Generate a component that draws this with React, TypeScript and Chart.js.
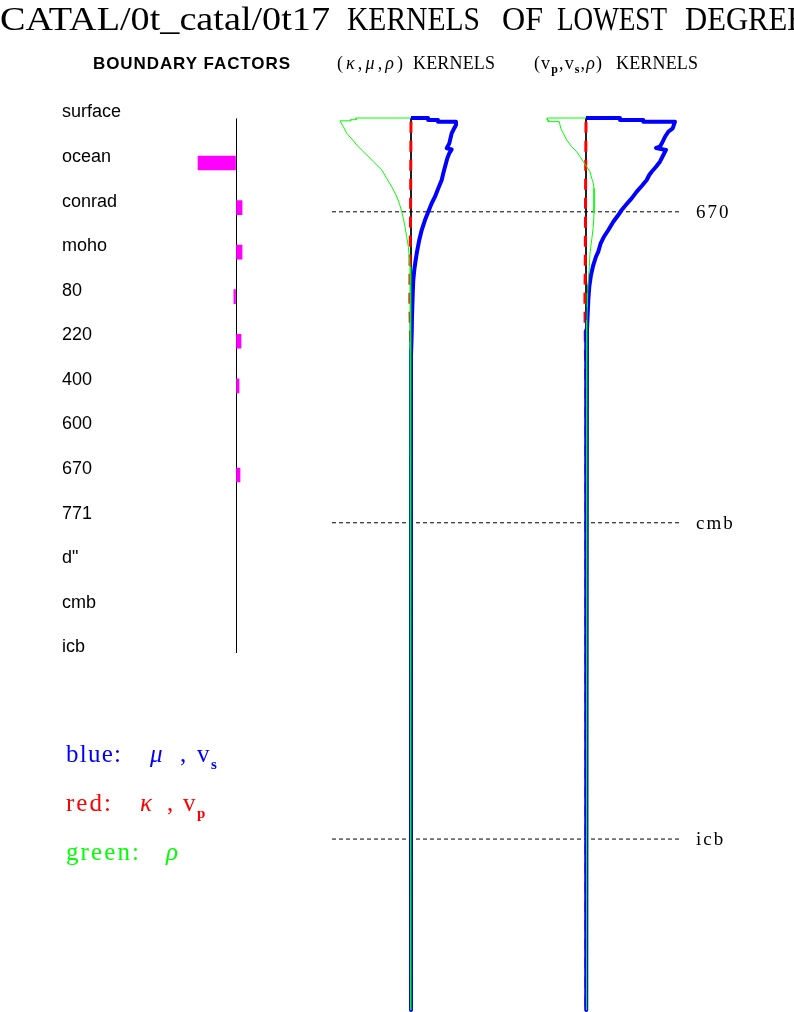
import React, { useEffect, useRef } from 'react';
import { Chart, registerables } from 'chart.js';

Chart.register(...registerables);

// ---------------- data ----------------
const TITLE_WORDS = ['CATAL/0t_catal/0t17', 'KERNELS', 'OF', 'LOWEST', 'DEGREE'];
const EARTH_RADIUS_KM = 6371;

const BOUNDARY_LABELS = ['surface', 'ocean', 'conrad', 'moho', '80', '220', '400', '600', '670', '771', 'd"', 'cmb', 'icb'];
const BOUNDARY_FACTORS = [0, -0.5, 0.08, 0.08, -0.028, 0.066, 0.04, 0, 0.053, 0, 0, 0, 0];

const DISCONTINUITY_DEPTHS = [670, 2891, 5150];
const DISCONTINUITY_LABELS = ['670', 'cmb', 'icb'];

const ZERO_DEPTHS = [0, 6371];
const ZERO_VALUES = [0, 0];

// panel 1: (kappa, mu, rho) kernels — depth (km) and kernel value
const P1_MU_DEPTH = [0, 0, 14, 14, 26, 26, 50, 86, 109, 181, 216, 224, 252, 288, 348, 395, 443, 502, 562, 609, 669, 729, 800, 871, 943, 1014, 1086, 1157, 1252, 1348, 1419, 1536, 1700, 6371];
const P1_MU = [0, 0.38, 0.38, 0.6, 0.6, 1.0, 1.0, 0.94, 0.904, 0.851, 0.793, 0.904, 0.851, 0.807, 0.756, 0.718, 0.682, 0.607, 0.533, 0.46, 0.384, 0.311, 0.238, 0.184, 0.14, 0.104, 0.073, 0.051, 0.038, 0.029, 0.022, 0.016, 0, 0];

const P1_RHO_DEPTH = [0, 0, 12, 12, 20, 20, 62, 109, 157, 193, 229, 264, 312, 371, 431, 491, 550, 609, 669, 716, 776, 848, 919, 991, 1062, 1157, 1252, 1395, 1600, 6371];
const P1_RHO = [0, -1.22, -1.22, -1.34, -1.34, -1.58, -1.504, -1.429, -1.296, -1.207, -1.096, -0.984, -0.838, -0.651, -0.54, -0.429, -0.333, -0.26, -0.207, -0.171, -0.133, -0.096, -0.06, -0.038, -0.022, -0.016, -0.007, -0.007, 0, 0];

const P1_KAPPA_DEPTH = [26, 300, 700, 1000, 1300, 1600, 2000, 6371];
const P1_KAPPA = [0, -0.005, -0.01, -0.02, -0.025, -0.01, 0, 0];

// panel 2: (vp, vs, rho) kernels
const P2_VS_DEPTH = [0, 0, 14, 14, 26, 26, 74, 98, 134, 169, 205, 214, 228, 264, 312, 348, 384, 407, 443, 486, 526, 574, 614, 657, 693, 741, 800, 848, 895, 955, 991, 1050, 1121, 1205, 1300, 1395, 1514, 1580, 1700, 6371];
const P2_VS = [0, 0.382, 0.382, 0.644, 0.644, 1.0, 0.974, 0.925, 0.888, 0.862, 0.831, 0.787, 0.899, 0.869, 0.831, 0.787, 0.738, 0.711, 0.682, 0.626, 0.57, 0.513, 0.457, 0.401, 0.363, 0.307, 0.251, 0.202, 0.165, 0.138, 0.112, 0.082, 0.056, 0.037, 0.026, 0.019, 0.011, 0.008, 0, 0];

const P2_RHO_DEPTH = [0, 0, 14, 14, 26, 26, 74, 109, 157, 205, 241, 276, 312, 348, 384, 431, 466, 502, 586, 681, 776, 871, 966, 1062, 1157, 1252, 1348, 1443, 1538, 1700, 6371];
const P2_RHO = [0, -0.435, -0.435, -0.424, -0.424, -0.3, -0.284, -0.255, -0.217, -0.161, -0.104, -0.067, -0.03, 0.008, 0.045, 0.064, 0.082, 0.09, 0.09, 0.09, 0.082, 0.064, 0.045, 0.037, 0.026, 0.019, 0.015, 0.011, 0.008, 0.004, 0.004];

const P2_VP_DEPTH = [26, 300, 700, 1000, 1300, 1600, 2000, 6371];
const P2_VP = [0, -0.003, -0.006, -0.008, -0.012, -0.008, 0, 0];

// ---------------- layout ----------------
const PAGE_W = 794;
const PAGE_H = 1012;
const PLOT_TOP_PX = 118;
const PLOT_BOTTOM_PX = 1010;
const P1_ZERO_PX = 411;
const P1_UNIT_PX = 45;
const P2_ZERO_PX = 586;
const P2_UNIT_PX = 89;
const REF_LEFT_PX = 332;
const REF_RIGHT_PX = 682;
// title word boxes [left, right]
const TITLE_BOXES = [[0, 330], [347, 480], [502, 543], [557, 667], [685, 806]];

const BF_W = 330;
const BF_H = 700;
const BF_LABEL_LEFT = 62;
const BF_AXIS_W = 98;
const BF_TOP = 118.4;
const BF_BOTTOM = 653.3;
const BF_RIGHT_PAD = 18;

const BLUE = '#0000ff';
const RED = '#ff0000';
const GREEN = '#00ff00';
const MAGENTA = '#ff00ff';
const SERIF = '"Liberation Serif", "DejaVu Serif", serif';
const SANS = '"Liberation Sans", Arial, sans-serif';

const pts = (depths: number[], values: number[]) => depths.map((d, i) => ({ x: values[i], y: d }));

const lineDs = (data: any[], xAxisID: string, color: string, width: number, order: number, dash: number[] = []) => ({
  type: 'line' as const,
  data,
  xAxisID,
  yAxisID: 'y',
  borderColor: color,
  borderWidth: width,
  borderDash: dash,
  borderJoinStyle: 'round' as const,
  pointRadius: 0,
  fill: false,
  tension: 0,
  order,
});

function fitText(ctx: any, text: string, x: number, y: number, font: string, color: string, target?: number, spacing?: number) {
  ctx.font = font;
  ctx.fillStyle = color;
  ctx.letterSpacing = '0px';
  if (target) {
    const w = ctx.measureText(text).width;
    const ls = (target - w) / Math.max(1, text.length - 1);
    ctx.letterSpacing = ls + 'px';
  } else if (spacing) {
    ctx.letterSpacing = spacing + 'px';
  }
  ctx.fillText(text, x, y);
  ctx.letterSpacing = '0px';
}

function scaleText(ctx: any, text: string, x: number, y: number, font: string, color: string, target: number) {
  ctx.font = font;
  ctx.fillStyle = color;
  ctx.letterSpacing = '0px';
  const w = ctx.measureText(text).width;
  ctx.save();
  ctx.translate(x, y);
  ctx.scale(target / w, 1);
  ctx.fillText(text, 0, 0);
  ctx.restore();
}

type Seg = { t: string; font: string; dy?: number };
function drawRun(ctx: any, segs: Seg[], x: number, y: number, color: string, target: number) {
  ctx.letterSpacing = '0px';
  ctx.fillStyle = color;
  const widths = segs.map((s) => {
    ctx.font = s.font;
    return ctx.measureText(s.t).width;
  });
  const total = widths.reduce((a, b) => a + b, 0);
  const gap = (target - total) / Math.max(1, segs.length - 1);
  let cx = x;
  segs.forEach((s, i) => {
    ctx.font = s.font;
    ctx.fillText(s.t, cx, y + (s.dy || 0));
    cx += widths[i] + gap;
  });
}

const textPlugin = {
  id: 'pageText',
  afterDraw(chart: any) {
    const ctx = chart.ctx;
    ctx.save();
    ctx.textBaseline = 'alphabetic';
    ctx.textAlign = 'left';
    // title
    TITLE_WORDS.forEach((w, i) => {
      const [l, r] = TITLE_BOXES[i];
      scaleText(ctx, w, l, 30, `33px ${SERIF}`, '#000', r - l);
    });
    // headers
    fitText(ctx, 'BOUNDARY FACTORS', 93, 69, `bold 17px ${SANS}`, '#000', 197);
    const n = `18px ${SERIF}`;
    const it = `italic 18px ${SERIF}`;
    const sub = `bold 12px ${SERIF}`;
    drawRun(ctx, [
      { t: '(', font: n }, { t: 'κ', font: it }, { t: ',', font: n }, { t: 'μ', font: it },
      { t: ',', font: n }, { t: 'ρ', font: it }, { t: ')', font: n },
    ], 337, 69, '#000', 66);
    fitText(ctx, 'KERNELS', 413, 69, n, '#000', 82);
    drawRun(ctx, [
      { t: '(', font: n }, { t: 'v', font: n }, { t: 'p', font: sub, dy: 4 }, { t: ',', font: n },
      { t: 'v', font: n }, { t: 's', font: sub, dy: 4 }, { t: ',', font: n }, { t: 'ρ', font: it }, { t: ')', font: n },
    ], 534, 69, '#000', 68);
    fitText(ctx, 'KERNELS', 616, 69, n, '#000', 82);

    // discontinuity labels
    const ys = chart.scales.y;
    DISCONTINUITY_DEPTHS.forEach((d, i) => {
      fitText(ctx, DISCONTINUITY_LABELS[i], 696, ys.getPixelForValue(d) + 6, `19px ${SERIF}`, '#000', undefined, 2);
    });

    // legend
    const L = `25px ${SERIF}`;
    const LI = `italic 25px ${SERIF}`;
    const LS = `bold 15px ${SERIF}`;
    fitText(ctx, 'blue:', 66, 762, L, BLUE, 55);
    fitText(ctx, 'μ', 150, 762, LI, BLUE);
    fitText(ctx, ',', 180, 762, L, BLUE);
    fitText(ctx, 'v', 197, 762, L, BLUE);
    fitText(ctx, 's', 211, 769, LS, BLUE);

    fitText(ctx, 'red:', 66, 811, L, RED, 45);
    fitText(ctx, 'κ', 140, 811, LI, RED);
    fitText(ctx, ',', 167, 811, L, RED);
    fitText(ctx, 'v', 183, 811, L, RED);
    fitText(ctx, 'p', 197, 818, LS, RED);

    fitText(ctx, 'green:', 66, 860, L, GREEN, 73);
    fitText(ctx, 'ρ', 166, 860, LI, GREEN);
    ctx.restore();
  },
};

export default function App() {
  const mainRef = useRef<HTMLCanvasElement>(null);
  const bfRef = useRef<HTMLCanvasElement>(null);

  useEffect(() => {
    document.documentElement.style.overflow = 'hidden';
    document.body.style.overflow = 'hidden';

    const yRange = (EARTH_RADIUS_KM * PAGE_H) / (PLOT_BOTTOM_PX - PLOT_TOP_PX);
    const yMin = (-PLOT_TOP_PX / PAGE_H) * yRange;
    const yMax = yMin + yRange;
    const xScale = (zero: number, unit: number) => ({
      type: 'linear' as const,
      display: false,
      min: -zero / unit,
      max: (PAGE_W - zero) / unit,
    });
    const refUnit = REF_RIGHT_PX - REF_LEFT_PX;

    const datasets: any[] = [];
    DISCONTINUITY_DEPTHS.forEach((d) => {
      datasets.push(lineDs([{ x: 0, y: d }, { x: 1, y: d }], 'xr', '#000', 1, 10, [4, 3]));
    });
    datasets.push(lineDs(pts(ZERO_DEPTHS, ZERO_VALUES), 'x', '#000', 1, 9));
    datasets.push(lineDs(pts(ZERO_DEPTHS, ZERO_VALUES), 'x2', '#000', 1, 9));
    datasets.push(lineDs(pts(P1_KAPPA_DEPTH, P1_KAPPA), 'x', RED, 3, 3, [11, 8]));
    datasets.push(lineDs(pts(P2_VP_DEPTH, P2_VP), 'x2', RED, 3, 3, [11, 8]));
    datasets.push(lineDs(pts(P1_MU_DEPTH, P1_MU), 'x', BLUE, 4, 2));
    datasets.push(lineDs(pts(P2_VS_DEPTH, P2_VS), 'x2', BLUE, 4, 2));
    datasets.push(lineDs(pts(P1_RHO_DEPTH, P1_RHO), 'x', GREEN, 1, 1));
    datasets.push(lineDs(pts(P2_RHO_DEPTH, P2_RHO), 'x2', GREEN, 1, 1));

    const main = new Chart(mainRef.current as HTMLCanvasElement, {
      type: 'line',
      data: { datasets },
      options: {
        responsive: false,
        animation: false,
        devicePixelRatio: 1,
        events: [],
        layout: { padding: 0, autoPadding: false },
        plugins: { legend: { display: false }, tooltip: { enabled: false }, title: { display: false } },
        scales: {
          x: xScale(P1_ZERO_PX, P1_UNIT_PX),
          x2: xScale(P2_ZERO_PX, P2_UNIT_PX),
          xr: { type: 'linear', display: false, min: -REF_LEFT_PX / refUnit, max: (PAGE_W - REF_LEFT_PX) / refUnit },
          y: { type: 'linear', display: false, reverse: true, min: yMin, max: yMax },
        },
      } as any,
      plugins: [textPlugin],
    });

    const bf = new Chart(bfRef.current as HTMLCanvasElement, {
      type: 'bar',
      data: {
        labels: BOUNDARY_LABELS,
        datasets: [
          {
            data: BOUNDARY_FACTORS,
            backgroundColor: (c: any) => (c.raw === 0 ? 'rgba(0,0,0,0)' : MAGENTA),
            borderWidth: 0,
            barThickness: 14,
          },
        ],
      },
      options: {
        indexAxis: 'y',
        responsive: false,
        animation: false,
        devicePixelRatio: 1,
        events: [],
        layout: {
          padding: { left: BF_LABEL_LEFT, top: BF_TOP, right: BF_RIGHT_PAD, bottom: BF_H - BF_BOTTOM },
          autoPadding: false,
        },
        plugins: { legend: { display: false }, tooltip: { enabled: false } },
        scales: {
          y: {
            type: 'category',
            offset: false,
            grid: { display: false },
            border: { display: false },
            ticks: {
              crossAlign: 'far',
              labelOffset: -6,
              padding: 0,
              autoSkip: false,
              color: '#000',
              font: { family: SANS, size: 18 },
            },
            afterFit: (s: any) => {
              s.width = BF_AXIS_W;
            },
          },
          x: {
            type: 'linear',
            min: -1,
            max: 1,
            ticks: { display: false, stepSize: 0.5 },
            border: { display: false },
            grid: {
              drawTicks: false,
              lineWidth: 1,
              color: (c: any) => (c.tick && c.tick.value === 0 ? '#000' : 'rgba(0,0,0,0)'),
            },
            afterFit: (s: any) => {
              s.height = 0;
            },
          },
        },
      } as any,
    });

    return () => {
      main.destroy();
      bf.destroy();
    };
  }, []);

  return (
    <div style={{ position: 'absolute', left: 0, top: 0, width: PAGE_W, height: PAGE_H, background: '#fff', overflow: 'hidden' }}>
      <canvas ref={mainRef} width={PAGE_W} height={PAGE_H} style={{ position: 'absolute', left: 0, top: 0 }} />
      <canvas ref={bfRef} width={BF_W} height={BF_H} style={{ position: 'absolute', left: 0, top: 0 }} />
    </div>
  );
}
